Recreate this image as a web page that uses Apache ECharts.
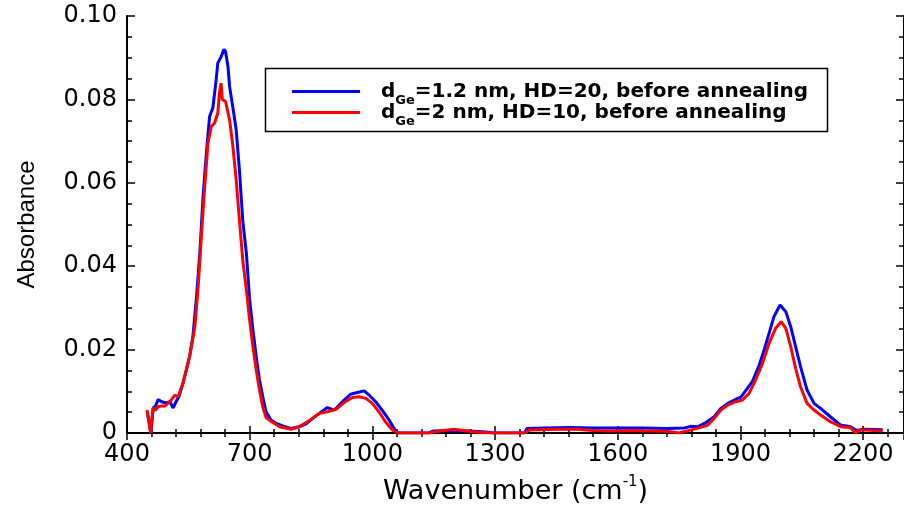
<!DOCTYPE html>
<html>
<head>
<meta charset="utf-8">
<script src="https://cdn.jsdelivr.net/npm/echarts@6/dist/echarts.min.js"></script>
<style>
  html, body { margin: 0; padding: 0; background: #fff; overflow: hidden; }
  #chart { width: 904px; height: 512px; }
</style>
</head>
<body>
<div id="chart"></div>
<script>
// absorbance spectra
const blueX = [450, 458, 464, 470, 476, 485, 495, 505, 513, 520, 528, 537, 545, 553, 561, 570, 578, 586, 594, 602, 610, 618, 622, 630, 637, 641, 647, 651, 659, 667, 675, 683, 692, 700, 708, 716, 724, 732, 740, 752, 765, 781, 801, 821, 838, 854, 870, 890, 907, 927, 947, 963, 980, 992, 1008, 1024, 1041, 1053, 1061, 1138, 1150, 1200, 1240, 1284, 1295, 1372, 1378, 1420, 1480, 1540, 1600, 1660, 1720, 1763, 1778, 1795, 1812, 1836, 1852, 1869, 1889, 1901, 1917, 1929, 1946, 1958, 1970, 1982, 1997, 2011, 2023, 2035, 2047, 2063, 2080, 2096, 2120, 2145, 2169, 2185, 2201, 2248]
const blueY = [0.0050, 0.0000, 0.0060, 0.0065, 0.0080, 0.0075, 0.0072, 0.0075, 0.0060, 0.0075, 0.0090, 0.0120, 0.0150, 0.0183, 0.0230, 0.0327, 0.0430, 0.0567, 0.0670, 0.0759, 0.0780, 0.0847, 0.0887, 0.0902, 0.0920, 0.0915, 0.0878, 0.0830, 0.0780, 0.0727, 0.0630, 0.0510, 0.0430, 0.0319, 0.0247, 0.0183, 0.0127, 0.0087, 0.0051, 0.0031, 0.0023, 0.0017, 0.0011, 0.0015, 0.0022, 0.0035, 0.0047, 0.0061, 0.0055, 0.0075, 0.0093, 0.0097, 0.0101, 0.0091, 0.0075, 0.0055, 0.0031, 0.0011, 0.0000, 0.0000, 0.0005, 0.0006, 0.0005, 0.0002, 0.0000, 0.0000, 0.0011, 0.0012, 0.0013, 0.0012, 0.0012, 0.0012, 0.0011, 0.0012, 0.0016, 0.0015, 0.0023, 0.0039, 0.0059, 0.0071, 0.0081, 0.0086, 0.0107, 0.0123, 0.0163, 0.0199, 0.0239, 0.0279, 0.0307, 0.0291, 0.0255, 0.0207, 0.0159, 0.0103, 0.0071, 0.0059, 0.0039, 0.0019, 0.0015, 0.0006, 0.0009, 0.0008]

const redX = [449, 458, 464, 470, 476, 485, 493, 505, 517, 525, 537, 553, 566, 574, 582, 590, 598, 606, 614, 622, 626, 630, 633, 641, 651, 659, 667, 675, 683, 692, 700, 708, 716, 724, 732, 740, 752, 773, 801, 821, 854, 870, 890, 911, 931, 951, 968, 984, 1000, 1016, 1032, 1049, 1061, 1140, 1160, 1200, 1230, 1260, 1290, 1370, 1385, 1450, 1500, 1540, 1580, 1620, 1680, 1720, 1750, 1770, 1795, 1820, 1836, 1852, 1869, 1889, 1905, 1921, 1937, 1954, 1970, 1986, 2000, 2011, 2023, 2035, 2047, 2063, 2080, 2096, 2120, 2145, 2169, 2181, 2195, 2248]
const redY = [0.0055, 0.0000, 0.0060, 0.0055, 0.0063, 0.0065, 0.0065, 0.0075, 0.0091, 0.0087, 0.0120, 0.0183, 0.0255, 0.0350, 0.0475, 0.0590, 0.0695, 0.0735, 0.0743, 0.0767, 0.0815, 0.0839, 0.0800, 0.0795, 0.0750, 0.0687, 0.0607, 0.0510, 0.0415, 0.0343, 0.0270, 0.0207, 0.0151, 0.0103, 0.0063, 0.0037, 0.0028, 0.0015, 0.0009, 0.0015, 0.0035, 0.0047, 0.0051, 0.0057, 0.0073, 0.0085, 0.0087, 0.0083, 0.0071, 0.0051, 0.0027, 0.0007, 0.0000, 0.0000, 0.0004, 0.0009, 0.0005, 0.0002, 0.0000, 0.0000, 0.0007, 0.0009, 0.0009, 0.0006, 0.0005, 0.0006, 0.0005, 0.0004, 0.0000, 0.0005, 0.0011, 0.0019, 0.0035, 0.0055, 0.0067, 0.0075, 0.0079, 0.0095, 0.0127, 0.0167, 0.0215, 0.0251, 0.0267, 0.0251, 0.0207, 0.0155, 0.0111, 0.0071, 0.0055, 0.0043, 0.0027, 0.0015, 0.0013, 0.0000, 0.0008, 0.0005]

const seriesNames = ['blue', 'red']
const legendLabels = {
  blue: ['d', 'Ge', '=1.2 nm, HD=20, before annealing'],
  red: ['d', 'Ge', '=2 nm, HD=10, before annealing']
}
const xTicks = { min: 400, max: 2300, step: 300 }
const yTicks = { min: 0, max: 0.1, step: 0.02 }

const zip = (xs, ys) => xs.map((x, i) => [x, ys[i]])

const myChart = echarts.init(document.getElementById('chart'), null, { renderer: 'canvas' })

const frameLine = { show: true, lineStyle: { color: '#000', width: 2 } }
const tickFont = { fontFamily: 'DejaVu Sans', fontSize: 24, color: '#000' }

const option = {
  animation: false,
  backgroundColor: '#fff',
  grid: { left: 127, top: 16, right: -2, bottom: 79 },
  legend: {
    orient: 'vertical',
    left: 292,
    top: 76,
    padding: 0,
    itemGap: -10,
    itemWidth: 68,
    itemHeight: 3,
    icon: 'rect',
    data: seriesNames,
    formatter: function (name) {
      const p = legendLabels[name]
      return '{d|' + p[0] + '}{sub|' + p[1] + '}{t|' + p[2] + '}'
    },
    textStyle: {
      rich: {
        d: { fontFamily: 'DejaVu Sans', fontWeight: 'bold', fontSize: 20, lineHeight: 20, color: '#000', padding: [0, 0, 0, 16] },
        sub: { fontFamily: 'DejaVu Sans', fontWeight: 'bold', fontSize: 13, lineHeight: 20, color: '#000', padding: [18, 0, 0, 0] },
        t: { fontFamily: 'DejaVu Sans', fontWeight: 'bold', fontSize: 20, lineHeight: 20, color: '#000' }
      }
    }
  },
  graphic: [
    {
      type: 'rect',
      shape: { x: 265.5, y: 68.5, width: 562, height: 63 },
      style: { fill: 'none', stroke: '#000', lineWidth: 1.5 },
      z: 10
    }
  ],
  xAxis: [
    {
      type: 'value',
      position: 'bottom',
      min: xTicks.min,
      max: xTicks.max,
      interval: xTicks.step,
      name: '{a|Wavenumber (cm}{s|-1}{a|)}',
      nameLocation: 'middle',
      nameGap: 42,
      nameTextStyle: {
        rich: {
          a: { fontFamily: 'DejaVu Sans', fontSize: 27, color: '#000' },
          s: { fontFamily: 'DejaVu Sans', fontSize: 15, color: '#000', padding: [0, 0, 18, 0] }
        }
      },
      axisLine: frameLine,
      axisTick: { show: true, inside: true, length: 7, lineStyle: { color: '#000', width: 1.5 } },
      minorTick: { show: true, splitNumber: 5, length: 4, lineStyle: { color: '#000', width: 1.5 } },
      axisLabel: Object.assign({
        margin: 10,
        showMaxLabel: false,
        formatter: function (v) { return String(v) }
      }, tickFont),
      splitLine: { show: false }
    },
    {
      type: 'value',
      position: 'top',
      min: xTicks.min,
      max: xTicks.max,
      interval: xTicks.step,
      axisLine: frameLine,
      axisTick: { show: true, inside: true, length: 7, lineStyle: { color: '#000', width: 1.5 } },
      minorTick: { show: true, splitNumber: 5, length: 4, lineStyle: { color: '#000', width: 1.5 } },
      axisLabel: { show: false },
      splitLine: { show: false }
    }
  ],
  yAxis: [
    {
      type: 'value',
      position: 'left',
      min: yTicks.min,
      max: yTicks.max,
      interval: yTicks.step,
      name: 'Absorbance',
      nameLocation: 'middle',
      nameGap: 88,
      nameTextStyle: { fontFamily: 'Liberation Sans', fontSize: 24, color: '#000' },
      axisLine: frameLine,
      axisTick: { show: true, inside: true, length: 8, lineStyle: { color: '#000', width: 1.5 } },
      minorTick: { show: true, splitNumber: 4, length: 5, lineStyle: { color: '#000', width: 1.5 } },
      axisLabel: Object.assign({
        margin: 10,
        formatter: function (v) { return v === 0 ? '0' : v.toFixed(2) }
      }, tickFont),
      splitLine: { show: false }
    },
    {
      type: 'value',
      position: 'right',
      min: yTicks.min,
      max: yTicks.max,
      interval: yTicks.step,
      axisLine: frameLine,
      axisTick: { show: true, inside: true, length: 8, lineStyle: { color: '#000', width: 1.5 } },
      minorTick: { show: true, splitNumber: 4, length: 5, lineStyle: { color: '#000', width: 1.5 } },
      axisLabel: { show: false },
      splitLine: { show: false }
    }
  ],
  series: [
    {
      name: 'blue',
      type: 'line',
      xAxisIndex: 0,
      yAxisIndex: 0,
      data: zip(blueX, blueY),
      symbol: 'none',
      color: '#0000ff',
      lineStyle: { color: '#0000ff', width: 3 }
    },
    {
      name: 'red',
      type: 'line',
      xAxisIndex: 0,
      yAxisIndex: 0,
      data: zip(redX, redY),
      symbol: 'none',
      color: '#ff0000',
      lineStyle: { color: '#ff0000', width: 3 }
    }
  ]
}
myChart.setOption(option)
</script>
</body>
</html>
